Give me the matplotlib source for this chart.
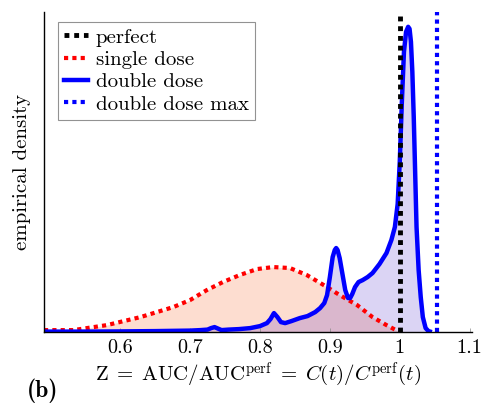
import numpy as np
import matplotlib
matplotlib.use("Agg")
import matplotlib.pyplot as plt
from matplotlib.lines import Line2D

plt.rcParams['font.family'] = 'serif'
plt.rcParams['font.serif'] = ['cmr10']
plt.rcParams['mathtext.fontset'] = 'cm'
plt.rcParams['axes.unicode_minus'] = False

# single dose density (x, y)
single_x = [0.491, 0.533, 0.581, 0.629, 0.676, 0.700, 0.724, 0.747, 0.771, 0.796,
            0.819, 0.843, 0.867, 0.896, 0.914, 0.939, 0.961, 0.981, 1.000]
single_y = [2, 2, 7, 15, 25, 32, 42, 50, 57, 63,
            65, 64, 57, 45, 37, 27, 15, 7, 0]

# double dose density (x, y)
double_x = [0.491, 0.55, 0.60, 0.65, 0.70, 0.715, 0.725, 0.73, 0.735, 0.74,
            0.745, 0.755, 0.77, 0.786, 0.800, 0.810, 0.815, 0.820, 0.825, 0.830,
            0.836, 0.845, 0.857, 0.868, 0.879, 0.886, 0.892, 0.896, 0.900, 0.904,
            0.907, 0.909, 0.911, 0.914, 0.918, 0.922, 0.926, 0.929, 0.932, 0.936,
            0.941, 0.947, 0.954, 0.961, 0.971, 0.981, 0.988, 0.993, 0.997, 1.000,
            1.003, 1.006, 1.009, 1.012, 1.014, 1.016, 1.018, 1.020, 1.022, 1.024,
            1.027, 1.030, 1.033, 1.037, 1.041, 1.046]
double_y = [0.5, 0.5, 0.7, 1, 1.5, 2, 2.5, 4, 5, 3.5,
            2, 2.5, 3, 4, 6, 9, 13, 19, 15, 10,
            9, 11, 14, 16, 20, 24, 29, 37, 55, 75,
            82, 84, 82, 74, 58, 42, 34, 34, 38, 45,
            50, 52, 55, 59, 68, 79, 92, 105, 128, 170,
            230, 280, 300, 305, 303, 290, 260, 215, 160, 105,
            62, 35, 15, 4, 1, 0]

perfect_x = 1.0
double_max_x = 1.053

xticks = [0.6, 0.7, 0.8, 0.9, 1.0, 1.1]
xtick_labels = ['0.6', '0.7', '0.8', '0.9', '1', '1.1']

fig = plt.figure(figsize=(4.85, 4.07), dpi=100)
ax = fig.add_axes([0.0907, 0.184, 0.882, 0.787])

ax.fill_between(single_x, single_y, color=(0.96, 0.35, 0.08), alpha=0.2, lw=0)
ax.fill_between(double_x, double_y, color=(0.18, 0.0, 0.76), alpha=0.17, lw=0)

ax.plot(single_x, single_y, color='red', lw=3, ls=(0, (1, 1)))
ax.plot(double_x, double_y, color='blue', lw=3.2, solid_capstyle='butt',
        solid_joinstyle='round')
ax.axvline(perfect_x, color='black', lw=3.5, ls=(0, (1, 1)))
ax.axvline(double_max_x, color='blue', lw=3.0, ls=(0, (1, 1)))

ax.set_xlim(0.491, 1.103)
ax.set_ylim(0, 320)
ax.set_yticks([])
ax.set_xticks(xticks)
ax.set_xticklabels(xtick_labels, fontsize=14.5)
ax.tick_params(axis='x', direction='in', length=3, width=0.5, pad=5, color='#888888')
for s in ['top', 'right']:
    ax.spines[s].set_visible(False)
ax.spines['left'].set_linewidth(1.0)
ax.spines['bottom'].set_linewidth(1.0)

ax.set_xlabel(r'$\mathrm{Z}\;=\;\mathrm{AUC}/\mathrm{AUC}^{\mathrm{perf}}\;=\;C(t)/C^{\mathrm{perf}}(t)$',
              fontsize=15, labelpad=3)
ax.set_ylabel('empirical density', fontsize=15, labelpad=9)

handles = [Line2D([], [], color='black', lw=3.5, ls=(0, (1, 1))),
           Line2D([], [], color='red', lw=3, ls=(0, (1, 1))),
           Line2D([], [], color='blue', lw=3.2),
           Line2D([], [], color='blue', lw=3, ls=(0, (1, 1)))]
labels = ['perfect', 'single dose', 'double dose', 'double dose max']
leg = ax.legend(handles, labels, loc='upper left', bbox_to_anchor=(0.033, 0.969),
                fontsize=15, frameon=True, fancybox=False, handlelength=1.15,
                handletextpad=0.35, borderpad=0.3, labelspacing=0.18, borderaxespad=0)
leg.get_frame().set_edgecolor('#777777')
leg.get_frame().set_linewidth(0.8)

fig.text(27 / 485, 0.04, '(b)', fontsize=17, family='cmb10', va='center', ha='left')

fig.savefig('out.png', dpi=100)
